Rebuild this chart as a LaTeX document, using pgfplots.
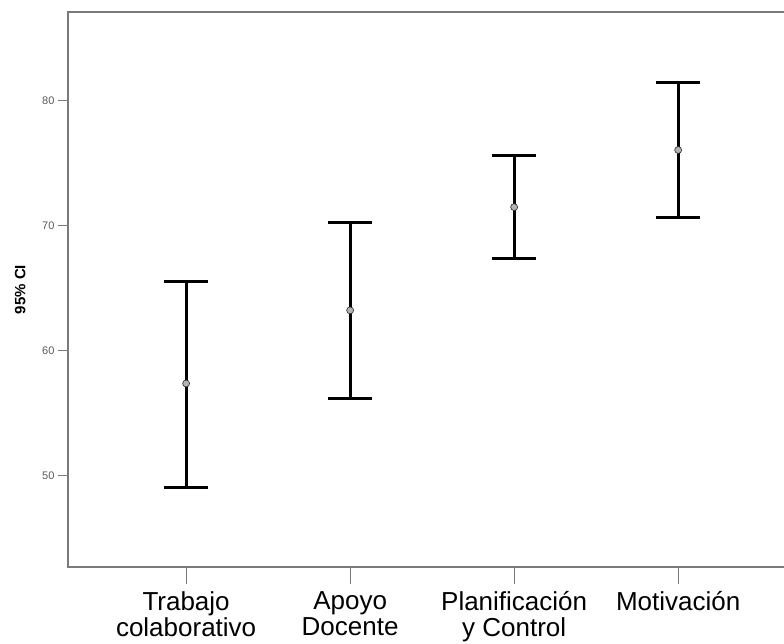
\documentclass[border=0pt]{standalone}
\usepackage{pgfplots}
\pgfplotsset{compat=1.18}
\usepackage{pgfplotstable}
\usepackage{fontspec}
\setmainfont{Liberation Sans}

% mean, upper distance, lower distance of the 95% CI
\pgfplotstableread{
x y ep em
0 57.38 8.18 8.34
1 63.23 7.06 7.06
2 71.49 4.09 4.09
3 76.06 5.38 5.37
}\citable

\definecolor{axisgray}{HTML}{7A7A7A}
\definecolor{ticktext}{HTML}{5A5A5A}

\begin{document}
\begin{tikzpicture}
\begin{axis}[
  at={(0,0)}, anchor=south west,
  scale only axis,
  width=725pt, height=555pt,
  xmin=-0.72, xmax=3.7,
  ymin=42.7, ymax=87.1,
  clip=false,
  xtick={0,1,2,3},
  xticklabels={Trabajo\\colaborativo, Apoyo\\Docente, Planificación\\y Control, Motivación},
  ytick={50,60,70,80},
  tick align=outside,
  tick pos=left,
  major tick length=10pt,
  xtick style={draw=none},
  ytick style={draw=axisgray, line width=1.2pt},
  axis line style={draw=axisgray, line width=1.4pt},
  /pgf/number format/assume math mode=true,
  xticklabel style={font=\fontsize{26}{26}\selectfont, align=center, text=black, yshift=-11pt},
  yticklabel style={font=\fontsize{11}{13}\selectfont, text=ticktext},
  ylabel={\textbf{95\% CI}},
  ylabel style={font=\fontsize{15}{17}\selectfont, at={(axis description cs:-0.066,0.5)}, anchor=center},
]
\addplot[
  only marks,
  mark=*,
  mark size=3.5pt,
  mark options={fill=gray!60, draw=gray!30!black, line width=0.6pt},
  error bars/.cd,
    y dir=both, y explicit,
    error bar style={line width=3pt, black},
    error mark options={rotate=90, line width=3pt, mark size=22pt, black},
] table[x=x, y=y, y error plus=ep, y error minus=em] {\citable};

\pgfplotsinvokeforeach{0,1,2,3}{
  \draw[axisgray, line width=1.2pt] ([yshift=-1pt]axis cs:#1,42.7) -- ([yshift=-17pt]axis cs:#1,42.7);
}
\end{axis}
\pgfresetboundingbox
\path[use as bounding box] (-68pt,-76pt) rectangle (716pt,567pt);
\end{tikzpicture}
\end{document}
